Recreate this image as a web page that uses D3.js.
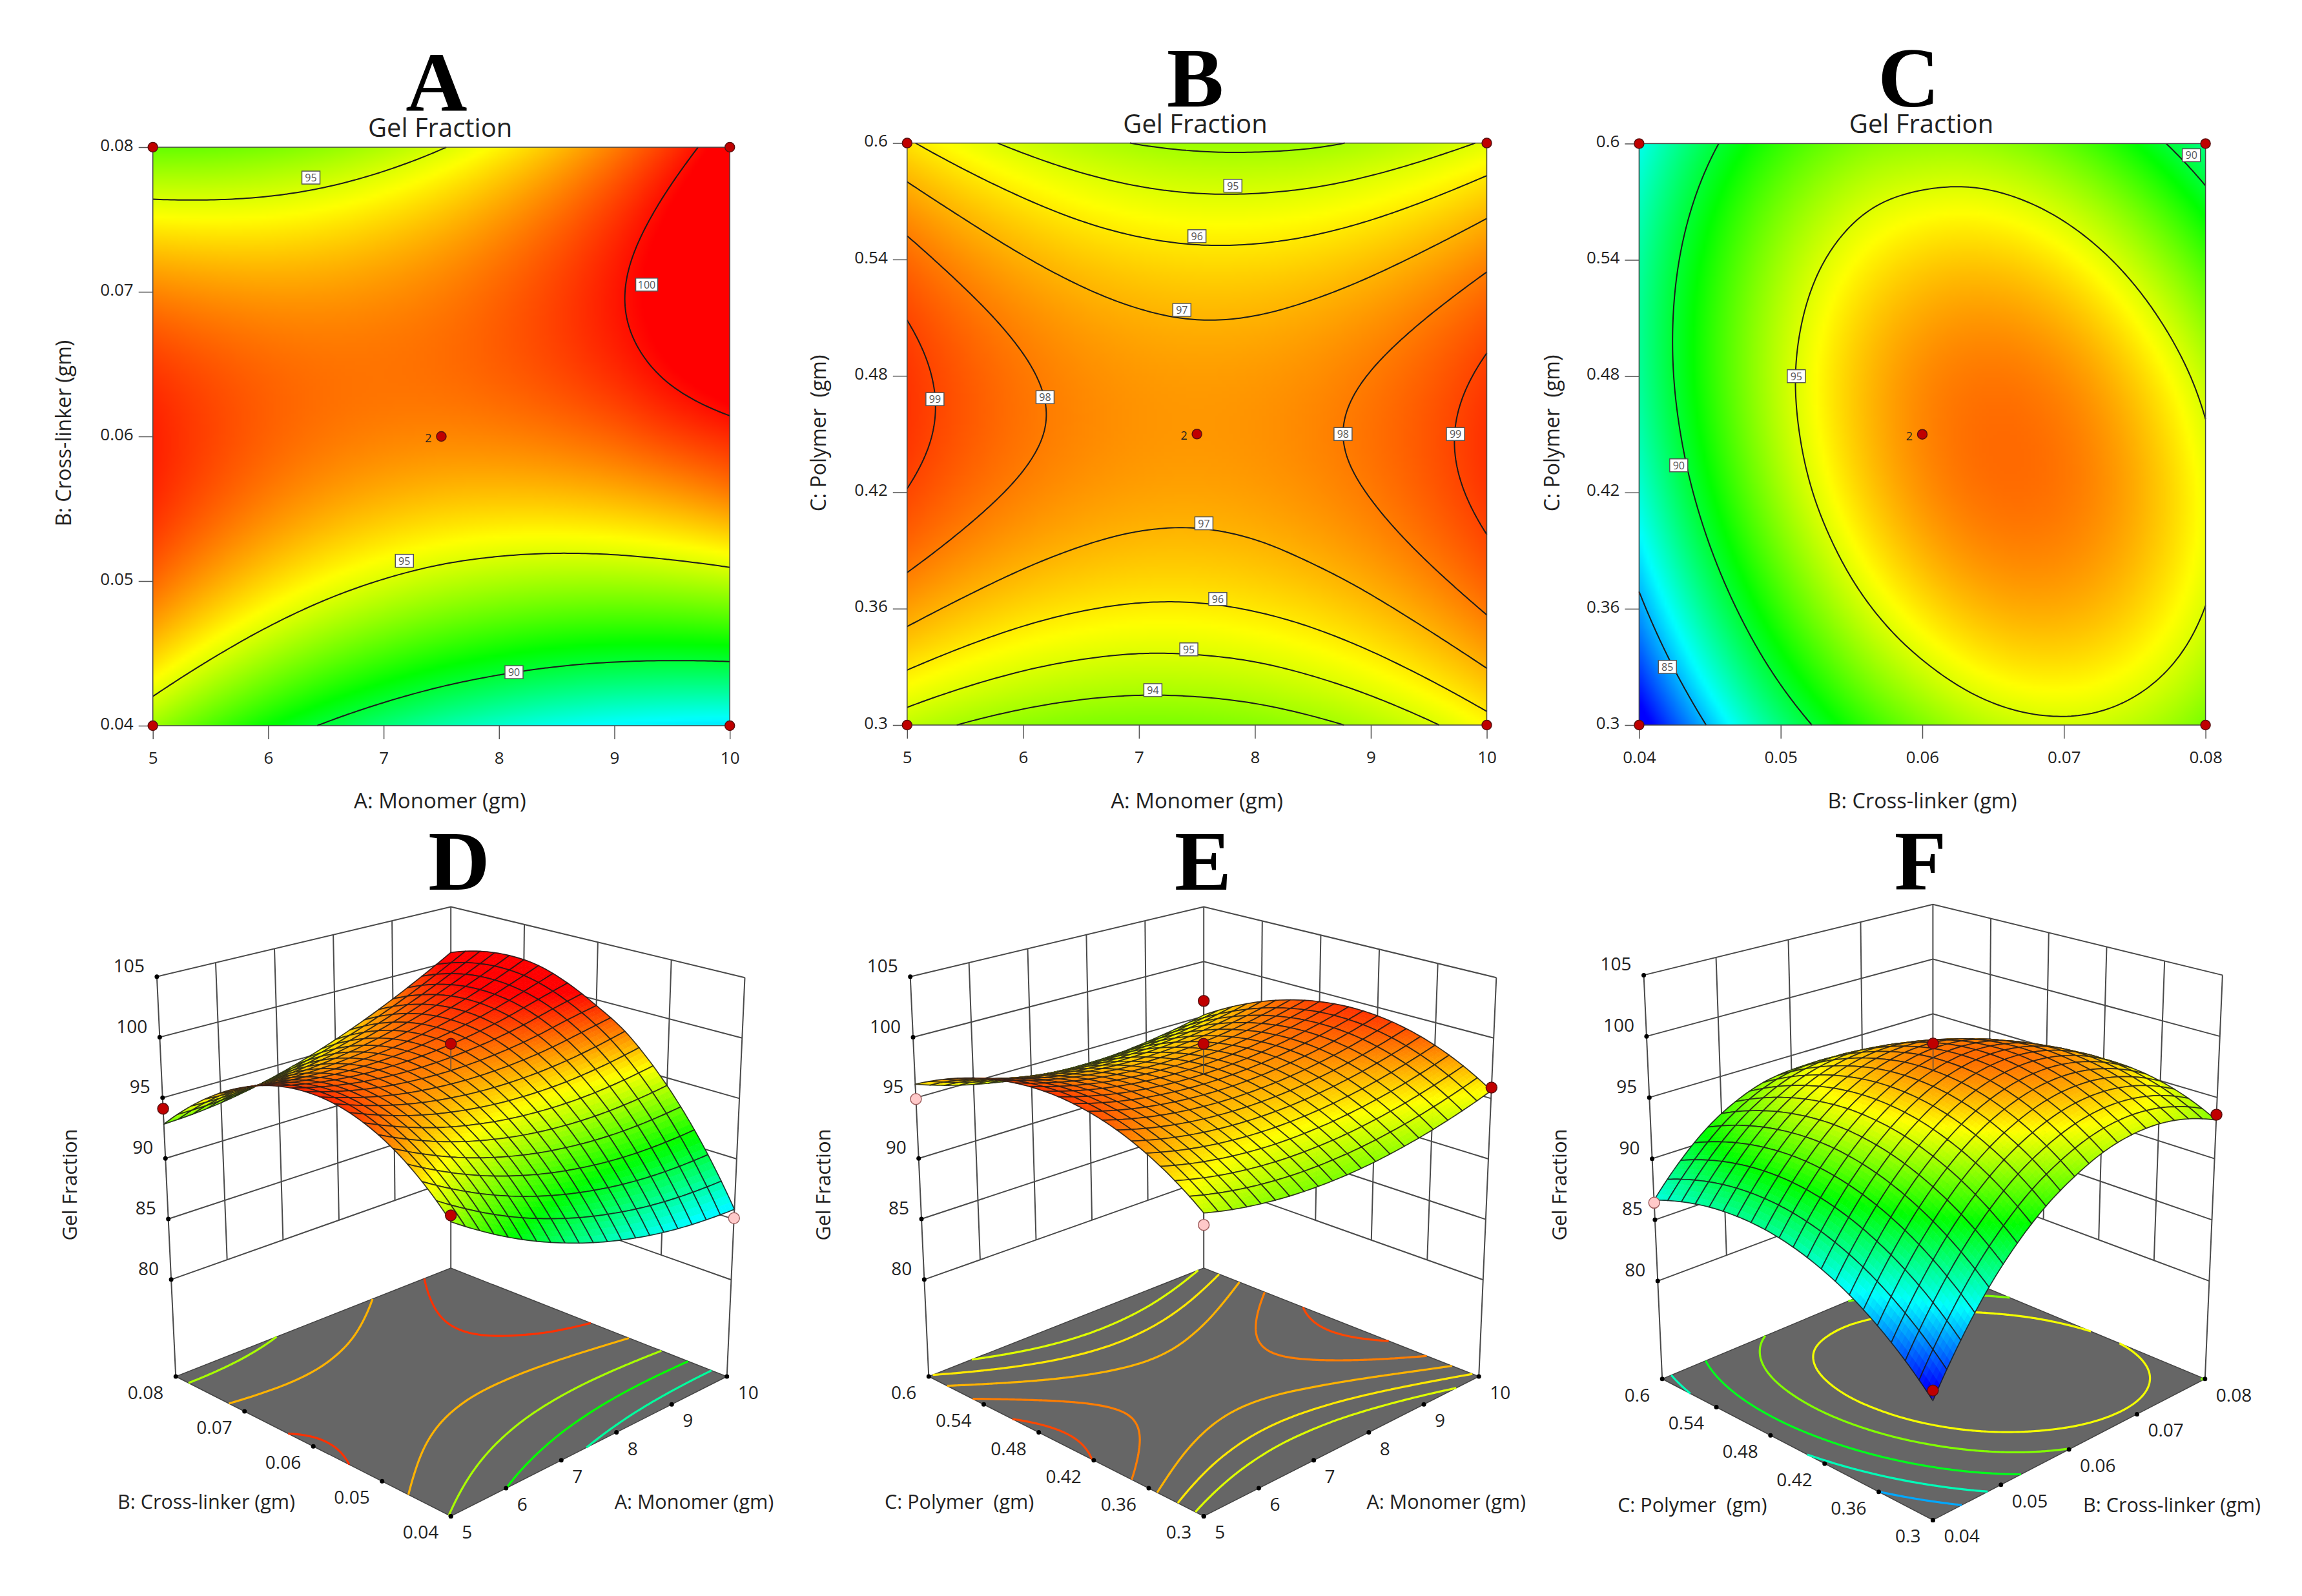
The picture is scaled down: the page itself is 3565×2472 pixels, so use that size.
<!DOCTYPE html>
<html>
<head>
<meta charset="utf-8">
<script src="https://cdn.jsdelivr.net/npm/d3@7"></script>
<style>
body { margin: 0; background: #fff; }
text { font-family: "Open Sans", sans-serif; fill: #222; white-space: pre; }
.letter { font-family: "Liberation Serif", serif; font-weight: bold; font-size: 132px; fill: #000; text-anchor: middle; }
.tick text { font-size: 26px; }
</style>
</head>
<body>
<script>
const monomerTicks = [5, 6, 7, 8, 9, 10]
const crossTicks = [0.04, 0.05, 0.06, 0.07, 0.08]
const polymerTicks = [0.3, 0.36, 0.42, 0.48, 0.54, 0.6]
const zTicks = [80, 85, 90, 95, 100, 105]

// gel fraction, 11 x 11, first row = lowest y factor, first column = lowest x factor
const gelMonomerCross = [
  [93.83, 92.35, 91.01, 89.83, 88.81, 87.93, 87.21, 86.63, 86.21, 85.95, 85.83],
  [96.02, 94.70, 93.52, 92.50, 91.64, 90.92, 90.36, 89.94, 89.68, 89.58, 89.62],
  [97.71, 96.55, 95.53, 94.67, 93.97, 93.41, 93.01, 92.75, 92.65, 92.71, 92.91],
  [98.88, 97.88, 97.02, 96.32, 95.78, 95.38, 95.14, 95.04, 95.10, 95.32, 95.68],
  [99.55, 98.71, 98.01, 97.47, 97.09, 96.85, 96.77, 96.83, 97.05, 97.43, 97.95],
  [99.70, 99.02, 98.48, 98.10, 97.88, 97.80, 97.88, 98.10, 98.48, 99.02, 99.50],
  [99.35, 98.83, 98.45, 98.23, 98.17, 98.25, 98.49, 98.87, 99.41, 100.11, 100.80],
  [98.48, 98.12, 97.90, 97.84, 97.94, 98.18, 98.58, 99.12, 99.82, 100.68, 101.68],
  [97.11, 96.91, 96.85, 96.95, 97.21, 97.61, 98.17, 98.87, 99.73, 100.75, 101.91],
  [95.22, 95.18, 95.28, 95.54, 95.96, 96.52, 97.24, 98.10, 99.12, 100.30, 101.62],
  [92.83, 92.95, 93.21, 93.63, 94.21, 94.93, 95.81, 96.83, 98.01, 99.35, 100.83]
]
const gelMonomerPolymer = [
  [94.48, 93.93, 93.54, 93.29, 93.19, 93.23, 93.42, 93.76, 94.24, 94.87, 95.65],
  [96.08, 95.52, 95.10, 94.83, 94.70, 94.73, 94.89, 95.21, 95.67, 96.28, 97.03],
  [97.36, 96.78, 96.34, 96.05, 95.90, 95.90, 96.05, 96.34, 96.78, 97.37, 98.10],
  [98.33, 97.72, 97.26, 96.95, 96.78, 96.76, 96.88, 97.16, 97.57, 98.14, 98.85],
  [98.97, 98.34, 97.86, 97.53, 97.34, 97.29, 97.40, 97.65, 98.04, 98.59, 99.28],
  [99.30, 98.65, 98.14, 97.79, 97.57, 97.51, 97.59, 97.82, 98.20, 98.72, 99.39],
  [99.30, 98.63, 98.10, 97.72, 97.49, 97.41, 97.47, 97.67, 98.03, 98.53, 99.17],
  [98.98, 98.29, 97.74, 97.34, 97.09, 96.98, 97.02, 97.21, 97.54, 98.02, 98.64],
  [98.35, 97.63, 97.06, 96.64, 96.37, 96.24, 96.26, 96.42, 96.73, 97.19, 97.79],
  [97.39, 96.66, 96.07, 95.62, 95.32, 95.17, 95.17, 95.31, 95.60, 96.04, 96.62],
  [96.12, 95.36, 94.75, 94.28, 93.96, 93.79, 93.76, 93.86, 94.15, 94.57, 95.12]
]
const gelCrossPolymer = [
  [80.85, 84.40, 87.45, 89.89, 91.82, 93.22, 94.23, 94.72, 94.71, 94.18, 93.15],
  [82.87, 86.32, 89.26, 91.63, 93.50, 94.83, 95.73, 96.12, 96.00, 95.37, 94.24],
  [84.56, 87.91, 90.74, 93.04, 94.82, 96.08, 96.88, 97.17, 96.95, 96.21, 94.97],
  [85.94, 89.18, 91.91, 94.11, 95.82, 97.00, 97.69, 97.88, 97.55, 96.71, 95.37],
  [86.99, 90.13, 92.76, 94.88, 96.49, 97.58, 98.17, 98.25, 97.82, 96.88, 95.43],
  [87.73, 90.76, 93.29, 95.30, 96.81, 97.80, 98.29, 98.26, 97.73, 96.68, 95.13],
  [88.15, 91.08, 93.50, 95.41, 96.81, 97.70, 98.08, 97.95, 97.31, 96.16, 94.51],
  [88.24, 91.07, 93.38, 95.17, 96.46, 97.22, 97.50, 97.27, 96.53, 95.27, 93.51],
  [88.02, 90.74, 92.95, 94.62, 95.78, 96.42, 96.59, 96.26, 95.41, 94.05, 92.19],
  [87.47, 90.09, 92.20, 93.74, 94.78, 95.27, 95.34, 94.90, 93.95, 92.49, 90.52],
  [86.61, 89.12, 91.13, 92.53, 93.43, 93.78, 93.75, 93.20, 92.15, 90.58, 88.51]
]

// contour levels and their printed labels: [x value, y value, level]
const levelsMonomerCross = [90, 95, 100]
const levelsMonomerPolymer = [94, 95, 96, 97, 98, 99]
const levelsCrossPolymer = [85, 90, 95]
const labelsMonomerCross = [[6.37, 0.0779, 95], [9.28, 0.0705, 100], [7.18, 0.0514, 95], [8.13, 0.0437, 90]]
const labelsMonomerPolymer = [[7.81, 0.578, 95], [7.5, 0.552, 96], [7.37, 0.514, 97], [5.24, 0.468, 99], [6.19, 0.469, 98],
  [8.76, 0.45, 98], [9.73, 0.45, 99], [7.56, 0.404, 97], [7.68, 0.365, 96], [7.43, 0.339, 95], [7.12, 0.318, 94]]
const labelsCrossPolymer = [[0.0511, 0.48, 95], [0.0428, 0.434, 90], [0.042, 0.33, 85], [0.079, 0.594, 90]]

// floor contours of the 3D plots
const floorMonomerCross = [88, 91, 94, 97, 99.4]
const floorMonomerPolymer = [95, 96, 97, 98, 99]
const floorCrossPolymer = [84.6, 87.5, 90.4, 93.3, 95.4]

// design runs in the 3D plots: [x value, y value, response]
const runsMonomerCross = [[5, 0.08, 94.1], [7.5, 0.06, 100], [5, 0.04, 94.3], [10, 0.04, 85.1]]
const runsMonomerPolymer = [[10, 0.6, 96.4], [7.5, 0.45, 100], [5, 0.3, 93.6], [5, 0.6, 94.9], [10, 0.3, 95.9]]
const runsCrossPolymer = [[0.04, 0.3, 81.6], [0.06, 0.45, 100], [0.04, 0.6, 86.4], [0.08, 0.3, 93.6]]

const color = d3.scaleLinear()
  .domain([81.5, 86.2, 90.9, 95.6, 100.3])
  .range(["#0000ff", "#00ffff", "#00ff00", "#ffff00", "#ff0000"])
  .clamp(true)

const svg = d3.select("body").append("svg").attr("width", 3565).attr("height", 2472)

// smooth display resampling of a read grid (Catmull-Rom through the read values)
function spline(p, t) {
  const last = p.length - 1
  const s = Math.min(Math.floor(t * last), last - 1)
  const f = t * last - s
  const p1 = p[s], p2 = p[s + 1]
  const p0 = s > 0 ? p[s - 1] : 3 * p[0] - 3 * p[1] + p[2]
  const p3 = s + 2 <= last ? p[s + 2] : 3 * p[last] - 3 * p[last - 1] + p[last - 2]
  return 0.5 * (2 * p1 + (p2 - p0) * f + (2 * p0 - 5 * p1 + 4 * p2 - p3) * f * f + (3 * p1 - p0 - 3 * p2 + p3) * f * f * f)
}

function refine(grid, n) {
  const ts = d3.range(n).map(i => i / (n - 1))
  const rows = grid.map(r => ts.map(t => spline(r, t)))
  const out = ts.map(() => [])
  ts.forEach((_, i) => {
    const col = rows.map(r => r[i])
    ts.forEach((t, j) => out[j].push(spline(col, t)))
  })
  return out
}

// open contour lines in unit coordinates, without the parts that run along the plot edge
function contourLines(fine, level) {
  const n = fine.length
  const shape = d3.contours().size([n, n]).thresholds([level])(fine.flat())[0]
  const lines = []
  const unit = pt => pt.map(c => Math.max(0, Math.min(1, (c - 0.5) / (n - 1))))
  shape.coordinates.forEach(poly => poly.forEach(ring => {
    let cur = []
    ring.forEach((pt, i) => {
      const p = unit(pt)
      if (i > 0) {
        const q = unit(ring[i - 1])
        const sameEdge = (p[0] == q[0] && (p[0] == 0 || p[0] == 1)) || (p[1] == q[1] && (p[1] == 0 || p[1] == 1))
        if (sameEdge) {
          if (cur.length > 1) lines.push(cur)
          cur = []
        }
      }
      cur.push(p)
    })
    if (cur.length > 1) lines.push(cur)
  }))
  return lines
}

const flatPanels = [
  { letter: "A", lx: 676, ly: 172, grid: gelMonomerCross, xt: monomerTicks, yt: crossTicks, levels: levelsMonomerCross, labels: labelsMonomerCross,
    xName: "A: Monomer (gm)", yName: "B: Cross-linker (gm)", left: 236.7, right: 1130.2, top: 228, bottom: 1124, titleX: 681.6, titleY: 212, yNameX: 109.5 },
  { letter: "B", lx: 1851, ly: 165, grid: gelMonomerPolymer, xt: monomerTicks, yt: polymerTicks, levels: levelsMonomerPolymer, labels: labelsMonomerPolymer,
    xName: "A: Monomer (gm)", yName: "C: Polymer  (gm)", left: 1404.8, right: 2302.5, top: 221.6, bottom: 1123, titleX: 1851, titleY: 206, yNameX: 1278.7 },
  { letter: "C", lx: 2956, ly: 165, grid: gelCrossPolymer, xt: crossTicks, yt: polymerTicks, levels: levelsCrossPolymer, labels: labelsCrossPolymer,
    xName: "B: Cross-linker (gm)", yName: "C: Polymer  (gm)", left: 2538.4, right: 3415.6, top: 222.4, bottom: 1123, titleX: 2975.5, titleY: 206, yNameX: 2414.5 }
]

flatPanels.forEach(p => {
  const x = d3.scaleLinear().domain(d3.extent(p.xt)).range([p.left, p.right])
  const y = d3.scaleLinear().domain(d3.extent(p.yt)).range([p.bottom, p.top])
  const fine = refine(p.grid, 161)

  // heat map
  const canvas = document.createElement("canvas")
  canvas.width = canvas.height = 161
  const ctx = canvas.getContext("2d")
  const img = ctx.createImageData(161, 161)
  fine.forEach((row, j) => row.forEach((val, i) => {
    const c = d3.rgb(color(val))
    const k = ((160 - j) * 161 + i) * 4
    img.data[k] = c.r; img.data[k + 1] = c.g; img.data[k + 2] = c.b; img.data[k + 3] = 255
  }))
  ctx.putImageData(img, 0, 0)
  svg.append("image").attr("href", canvas.toDataURL())
    .attr("x", p.left).attr("y", p.top).attr("width", p.right - p.left).attr("height", p.bottom - p.top)
    .attr("preserveAspectRatio", "none")

  // contours
  const ux = d3.scaleLinear().domain([0, 1]).range(x.domain())
  const uy = d3.scaleLinear().domain([0, 1]).range(y.domain())
  const line = d3.line().x(d => x(ux(d[0]))).y(d => y(uy(d[1])))
  p.levels.forEach(level => {
    contourLines(fine, level).forEach(l => {
      svg.append("path").attr("d", line(l)).attr("fill", "none").attr("stroke", "#1c1c1c").attr("stroke-width", 2)
    })
  })
  p.labels.forEach(d => {
    const w = d[2] >= 100 ? 34 : 28
    svg.append("rect").attr("x", x(d[0]) - w / 2).attr("y", y(d[1]) - 10).attr("width", w).attr("height", 20)
      .attr("fill", "#fff").attr("stroke", "#555").attr("stroke-width", 1.5)
    svg.append("text").attr("x", x(d[0])).attr("y", y(d[1]) + 6).attr("text-anchor", "middle")
      .attr("font-size", 16).style("fill", "#555").text(d[2])
  })

  svg.append("rect").attr("x", p.left).attr("y", p.top).attr("width", p.right - p.left).attr("height", p.bottom - p.top)
    .attr("fill", "none").attr("stroke", "#444").attr("stroke-width", 1.5)

  // axes
  const ax = svg.append("g").attr("transform", `translate(0,${p.bottom})`)
    .call(d3.axisBottom(x).tickValues(p.xt).tickSize(21).tickPadding(20).tickFormat(String))
  const ay = svg.append("g").attr("transform", `translate(${p.left},0)`)
    .call(d3.axisLeft(y).tickValues(p.yt).tickSize(22).tickPadding(8).tickFormat(String))
  ;[ax, ay].forEach(g => {
    g.select(".domain").remove()
    g.selectAll(".tick line").attr("stroke", "#555").attr("stroke-width", 1.5)
    g.selectAll(".tick text").attr("font-family", null).attr("font-size", null)
  })
  ay.selectAll(".tick text").attr("dy", "0.2em")

  // design points
  const corners = []
  x.domain().forEach(a => y.domain().forEach(b => corners.push([a, b])))
  corners.push([(x.domain()[0] + x.domain()[1]) / 2, (y.domain()[0] + y.domain()[1]) / 2])
  svg.selectAll(null).data(corners).enter().append("circle")
    .attr("cx", d => x(d[0])).attr("cy", d => y(d[1])).attr("r", 7.5)
    .attr("fill", "#c00000").attr("stroke", "#5a1010").attr("stroke-width", 1.5)
  const mid = corners[4]
  svg.append("text").attr("x", x(mid[0]) - 20).attr("y", y(mid[1]) + 9).attr("text-anchor", "middle")
    .attr("font-size", 18).text("2")

  svg.append("text").attr("class", "letter").attr("x", p.lx).attr("y", p.ly).text(p.letter)
  svg.append("text").attr("x", p.titleX).attr("y", p.titleY).attr("text-anchor", "middle").attr("font-size", 40).text("Gel Fraction")
  svg.append("text").attr("x", (p.left + p.right) / 2 + (p.letter == "A" ? -2 : 0)).attr("y", 1252).attr("text-anchor", "middle")
    .attr("font-size", p.letter == "C" ? 32.5 : 33).text(p.xName)
  svg.append("text").attr("transform", `translate(${p.yNameX},671) rotate(-90)`).attr("text-anchor", "middle").attr("font-size", 32).text(p.yName)
})

const boxPanels = [
  { letter: "D", lx: 711, grid: gelMonomerCross, ut: monomerTicks, vt: crossTicks, floor: floorMonomerCross, runs: runsMonomerCross,
    uName: "A: Monomer (gm)", vName: "B: Cross-linker (gm)", uNameX: 1075, vNameX: 319.6, nameY: 2337, zNameX: 118.7,
    box: { front: [[698.2, 2348.4], [698.2, 1659]], right: [[1125.7, 2132], [1153.5, 1514.2]], left: [[272.2, 2132], [242.9, 1512.7]], back: [[698.2, 1964.1], [698.2, 1404.5]] } },
  { letter: "E", lx: 1863, grid: gelMonomerPolymer, ut: monomerTicks, vt: polymerTicks, floor: floorMonomerPolymer, runs: runsMonomerPolymer,
    uName: "A: Monomer (gm)", vName: "C: Polymer  (gm)", uNameX: 2239.8, vNameX: 1485.7, nameY: 2337, zNameX: 1286,
    box: { front: [[1864.2, 2348.4], [1864.2, 1659]], right: [[2290.2, 2132], [2317.3, 1514.2]], left: [[1438.3, 2132], [1409.7, 1512.7]], back: [[1864.2, 1964.1], [1864.2, 1404.5]] } },
  { letter: "F", lx: 2974, grid: gelCrossPolymer, ut: crossTicks, vt: polymerTicks, floor: floorCrossPolymer, runs: runsCrossPolymer,
    uName: "B: Cross-linker (gm)", vName: "C: Polymer  (gm)", uNameX: 3363.6, vNameX: 2620.8, nameY: 2341.7, zNameX: 2426,
    box: { front: [[2993.4, 2354.4], [2993.4, 1664.9]], right: [[3414.8, 2135.7], [3441.9, 1510.4]], left: [[2574.2, 2135.7], [2545.6, 1510.4]], back: [[2993.4, 1960.4], [2993.4, 1400.7]] } }
]

const zUnit = d3.scaleLinear().domain([72, 105]).range([0, 1])
const wallColor = "#4a4a4a"
const meshCells = 20
const subCells = 4

boxPanels.forEach(p => {
  const uScale = d3.scaleLinear().domain(d3.extent(p.ut)).range([0, 1])
  const vScale = d3.scaleLinear().domain(d3.extent(p.vt)).range([0, 1])
  const mix = (a, b, t) => [a[0] + (b[0] - a[0]) * t, a[1] + (b[1] - a[1]) * t]

  // box corners give the projection: blend along u, v and then height
  function project(u, v, z) {
    const w = zUnit(z)
    const at = k => mix(mix(p.box.front[k], p.box.right[k], u), mix(p.box.left[k], p.box.back[k], u), v)
    return mix(at(0), at(1), w)
  }
  const floorZ = zUnit.domain()[0], topZ = zUnit.domain()[1]
  const path = pts => d3.line()(pts)
  const wall = (pts, sw) => svg.append("path").attr("d", path(pts)).attr("fill", "none").attr("stroke", wallColor).attr("stroke-width", sw || 2)

  // walls
  zTicks.forEach(z => wall([project(0, 1, z), project(1, 1, z), project(1, 0, z)]))
  p.ut.slice(1, -1).forEach(t => wall([project(uScale(t), 1, zTicks[0]), project(uScale(t), 1, topZ)]))
  p.vt.slice(1, -1).forEach(t => wall([project(1, vScale(t), zTicks[0]), project(1, vScale(t), topZ)]))
  wall([project(0, 1, floorZ), project(0, 1, topZ)])
  wall([project(1, 0, floorZ), project(1, 0, topZ)])
  wall([project(1, 1, floorZ), project(1, 1, topZ)])

  // floor with contours
  const floorPts = [[0, 0], [1, 0], [1, 1], [0, 1]].map(c => project(c[0], c[1], floorZ))
  svg.append("path").attr("d", path(floorPts) + "Z").attr("fill", "#666").attr("stroke", "#444").attr("stroke-width", 1.5)
  const fine = refine(p.grid, 161)
  p.floor.forEach(level => {
    contourLines(fine, level).forEach(l => {
      svg.append("path").attr("d", path(l.map(d => project(d[0], d[1], floorZ))))
        .attr("fill", "none").attr("stroke", color(level)).attr("stroke-width", 3.2)
    })
  })

  // axis dots and labels
  const dot = pt => svg.append("circle").attr("cx", pt[0]).attr("cy", pt[1]).attr("r", 3.5).attr("fill", "#000")
  zTicks.forEach(z => {
    const pt = project(0, 1, z)
    dot(pt)
    svg.append("text").attr("x", pt[0] - 19).attr("y", pt[1] - 7).attr("text-anchor", "end").attr("font-size", 28).text(z)
  })
  p.ut.forEach(t => {
    const pt = project(uScale(t), 0, floorZ)
    dot(pt)
    svg.append("text").attr("x", pt[0] + 17).attr("y", pt[1] + 35).attr("font-size", 28).text(t)
  })
  p.vt.forEach(t => {
    const pt = project(0, vScale(t), floorZ)
    dot(pt)
    svg.append("text").attr("x", pt[0] - 19).attr("y", pt[1] + 35).attr("text-anchor", "end").attr("font-size", 28).text(t)
  })

  // surface, painted from the back corner to the front one; colour varies inside each mesh cell
  const n = meshCells * subCells
  const mesh = refine(p.grid, n + 1)
  const pt = (a, b) => project(a / n, b / n, mesh[b][a])
  const cells = []
  d3.range(meshCells).forEach(j => d3.range(meshCells).forEach(i => cells.push([i, j])))
  cells.sort((a, b) => (b[0] + b[1]) - (a[0] + a[1]))
  const surface = svg.append("g")
  cells.forEach(c => {
    const i0 = c[0] * subCells, j0 = c[1] * subCells
    d3.range(subCells - 1, -1, -1).forEach(sj => d3.range(subCells - 1, -1, -1).forEach(si => {
      const i = i0 + si, j = j0 + sj
      const fill = color((mesh[j][i] + mesh[j][i + 1] + mesh[j + 1][i] + mesh[j + 1][i + 1]) / 4)
      surface.append("path").attr("d", path([pt(i, j), pt(i + 1, j), pt(i + 1, j + 1), pt(i, j + 1)]) + "Z")
        .attr("fill", fill).attr("stroke", fill).attr("stroke-width", 0.8)
    }))
    const edge = []
    d3.range(subCells + 1).forEach(k => edge.push(pt(i0 + k, j0)))
    d3.range(1, subCells + 1).forEach(k => edge.push(pt(i0 + subCells, j0 + k)))
    d3.range(1, subCells + 1).forEach(k => edge.push(pt(i0 + subCells - k, j0 + subCells)))
    d3.range(1, subCells).forEach(k => edge.push(pt(i0, j0 + subCells - k)))
    surface.append("path").attr("d", path(edge) + "Z").attr("fill", "none")
      .attr("stroke", "#1a1a1a").attr("stroke-opacity", 0.85).attr("stroke-width", 1.7).attr("stroke-linejoin", "round")
  })

  // design runs, pink when they sit under the surface
  p.runs.forEach(r => {
    const u = uScale(r[0]), v = vScale(r[1])
    const surf = p.grid[Math.round(v * 10)][Math.round(u * 10)]
    const a = project(u, v, r[2])
    wall([a, project(u, v, surf)], 1.5)
    svg.append("circle").attr("cx", a[0]).attr("cy", a[1]).attr("r", 8.5)
      .attr("fill", r[2] < surf ? "#ffc9c9" : "#c00000").attr("stroke", r[2] < surf ? "#a06060" : "#5a1010").attr("stroke-width", 1.5)
  })

  svg.append("text").attr("class", "letter").attr("x", p.lx).attr("y", 1378).text(p.letter)
  svg.append("text").attr("x", p.uNameX).attr("y", p.nameY).attr("text-anchor", "middle").attr("font-size", 30.5).text(p.uName)
  svg.append("text").attr("x", p.vNameX).attr("y", p.nameY).attr("text-anchor", "middle").attr("font-size", 30.5).text(p.vName)
  svg.append("text").attr("transform", `translate(${p.zNameX},1835) rotate(-90)`).attr("text-anchor", "middle").attr("font-size", 31).text("Gel Fraction")
})
</script>
</body>
</html>
